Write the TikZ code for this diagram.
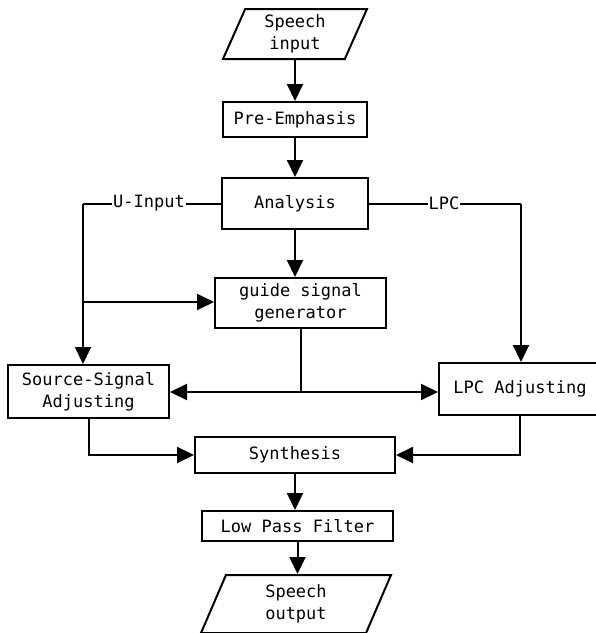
\documentclass[tikz,border=0pt]{standalone}
\usepackage{fontspec}
\newfontfamily\flowfont{DejaVu Sans Mono}
\usetikzlibrary{arrows.meta,shapes.geometric}
\begin{document}
\begin{tikzpicture}[x=1pt,y=-1pt,line width=2pt,
  every node/.style={font=\flowfont\fontsize{17}{22}\selectfont},
  blk/.style={draw,rectangle,inner sep=0pt,align=center},
  io/.style={draw,trapezium,trapezium left angle=#1,trapezium right angle=180-#1,
    trapezium stretches body,inner sep=0pt,align=center},
  lbl/.style={fill=white,inner sep=1pt},
  arr/.style={-{Triangle[length=17pt,width=16pt]}}]
  \useasboundingbox (0,0) rectangle (596,633);

  \node[io=60,minimum width=144pt,minimum height=50pt] (in) at (295,34) {Speech\\ input};
  \node[blk,minimum width=144pt,minimum height=35pt] (pre) at (295,119.5) {Pre-Emphasis};
  \node[blk,minimum width=146pt,minimum height=51pt] (ana) at (295,203.5) {Analysis};
  \node[blk,minimum width=171pt,minimum height=50pt] (gen) at (300.5,303) {guide signal\\generator};
  \node[blk,minimum width=161pt,minimum height=53pt] (src) at (88.5,391.5) {Source-Signal\\Adjusting};
  \node[blk,minimum width=162pt,minimum height=52pt] (adj) at (520,389) {LPC Adjusting};
  \node[blk,minimum width=200pt,minimum height=36pt] (syn) at (295,455) {Synthesis};
  \node[blk,minimum width=191pt,minimum height=30pt] (lpf) at (297.5,526) {Low Pass Filter};
  \node[io=57,minimum width=190pt,minimum height=58pt] (out) at (296,604) {Speech\\output};

  \coordinate (uin) at (83,203.5);
  \coordinate (lpcin) at (521,203.5);
  \coordinate (br) at (83,302);
  \coordinate (split) at (300.5,392);

  \draw[arr] (in) -- (pre);
  \draw[arr] (pre) -- (ana);
  \draw[arr] (ana.south) -- (ana.south |- gen.north);
  \draw (ana.west) -- (uin);
  \draw[arr] (uin) -- (uin |- src.north);
  \node[lbl] (ulbl) at (149,203.5) {U-Input};
  \draw (ana.east) -- (lpcin);
  \draw[arr] (lpcin) -- (lpcin |- adj.north);
  \node[lbl] (plbl) at (444,203.5) {LPC};
  \draw[arr] (br) -- (br -| gen.west);
  \draw (gen.south) -- (split);
  \draw[arr] (split) -- (split -| src.east);
  \draw[arr] (split) -- (split -| adj.west);
  \draw[arr] (src.south) |- (syn.west);
  \draw[arr] (adj.south) |- (syn.east);
  \draw[arr] (syn.south) -- (syn.south |- lpf.north);
  \draw[arr] (lpf.south) -- (lpf.south |- out.top side);
\end{tikzpicture}
\end{document}
